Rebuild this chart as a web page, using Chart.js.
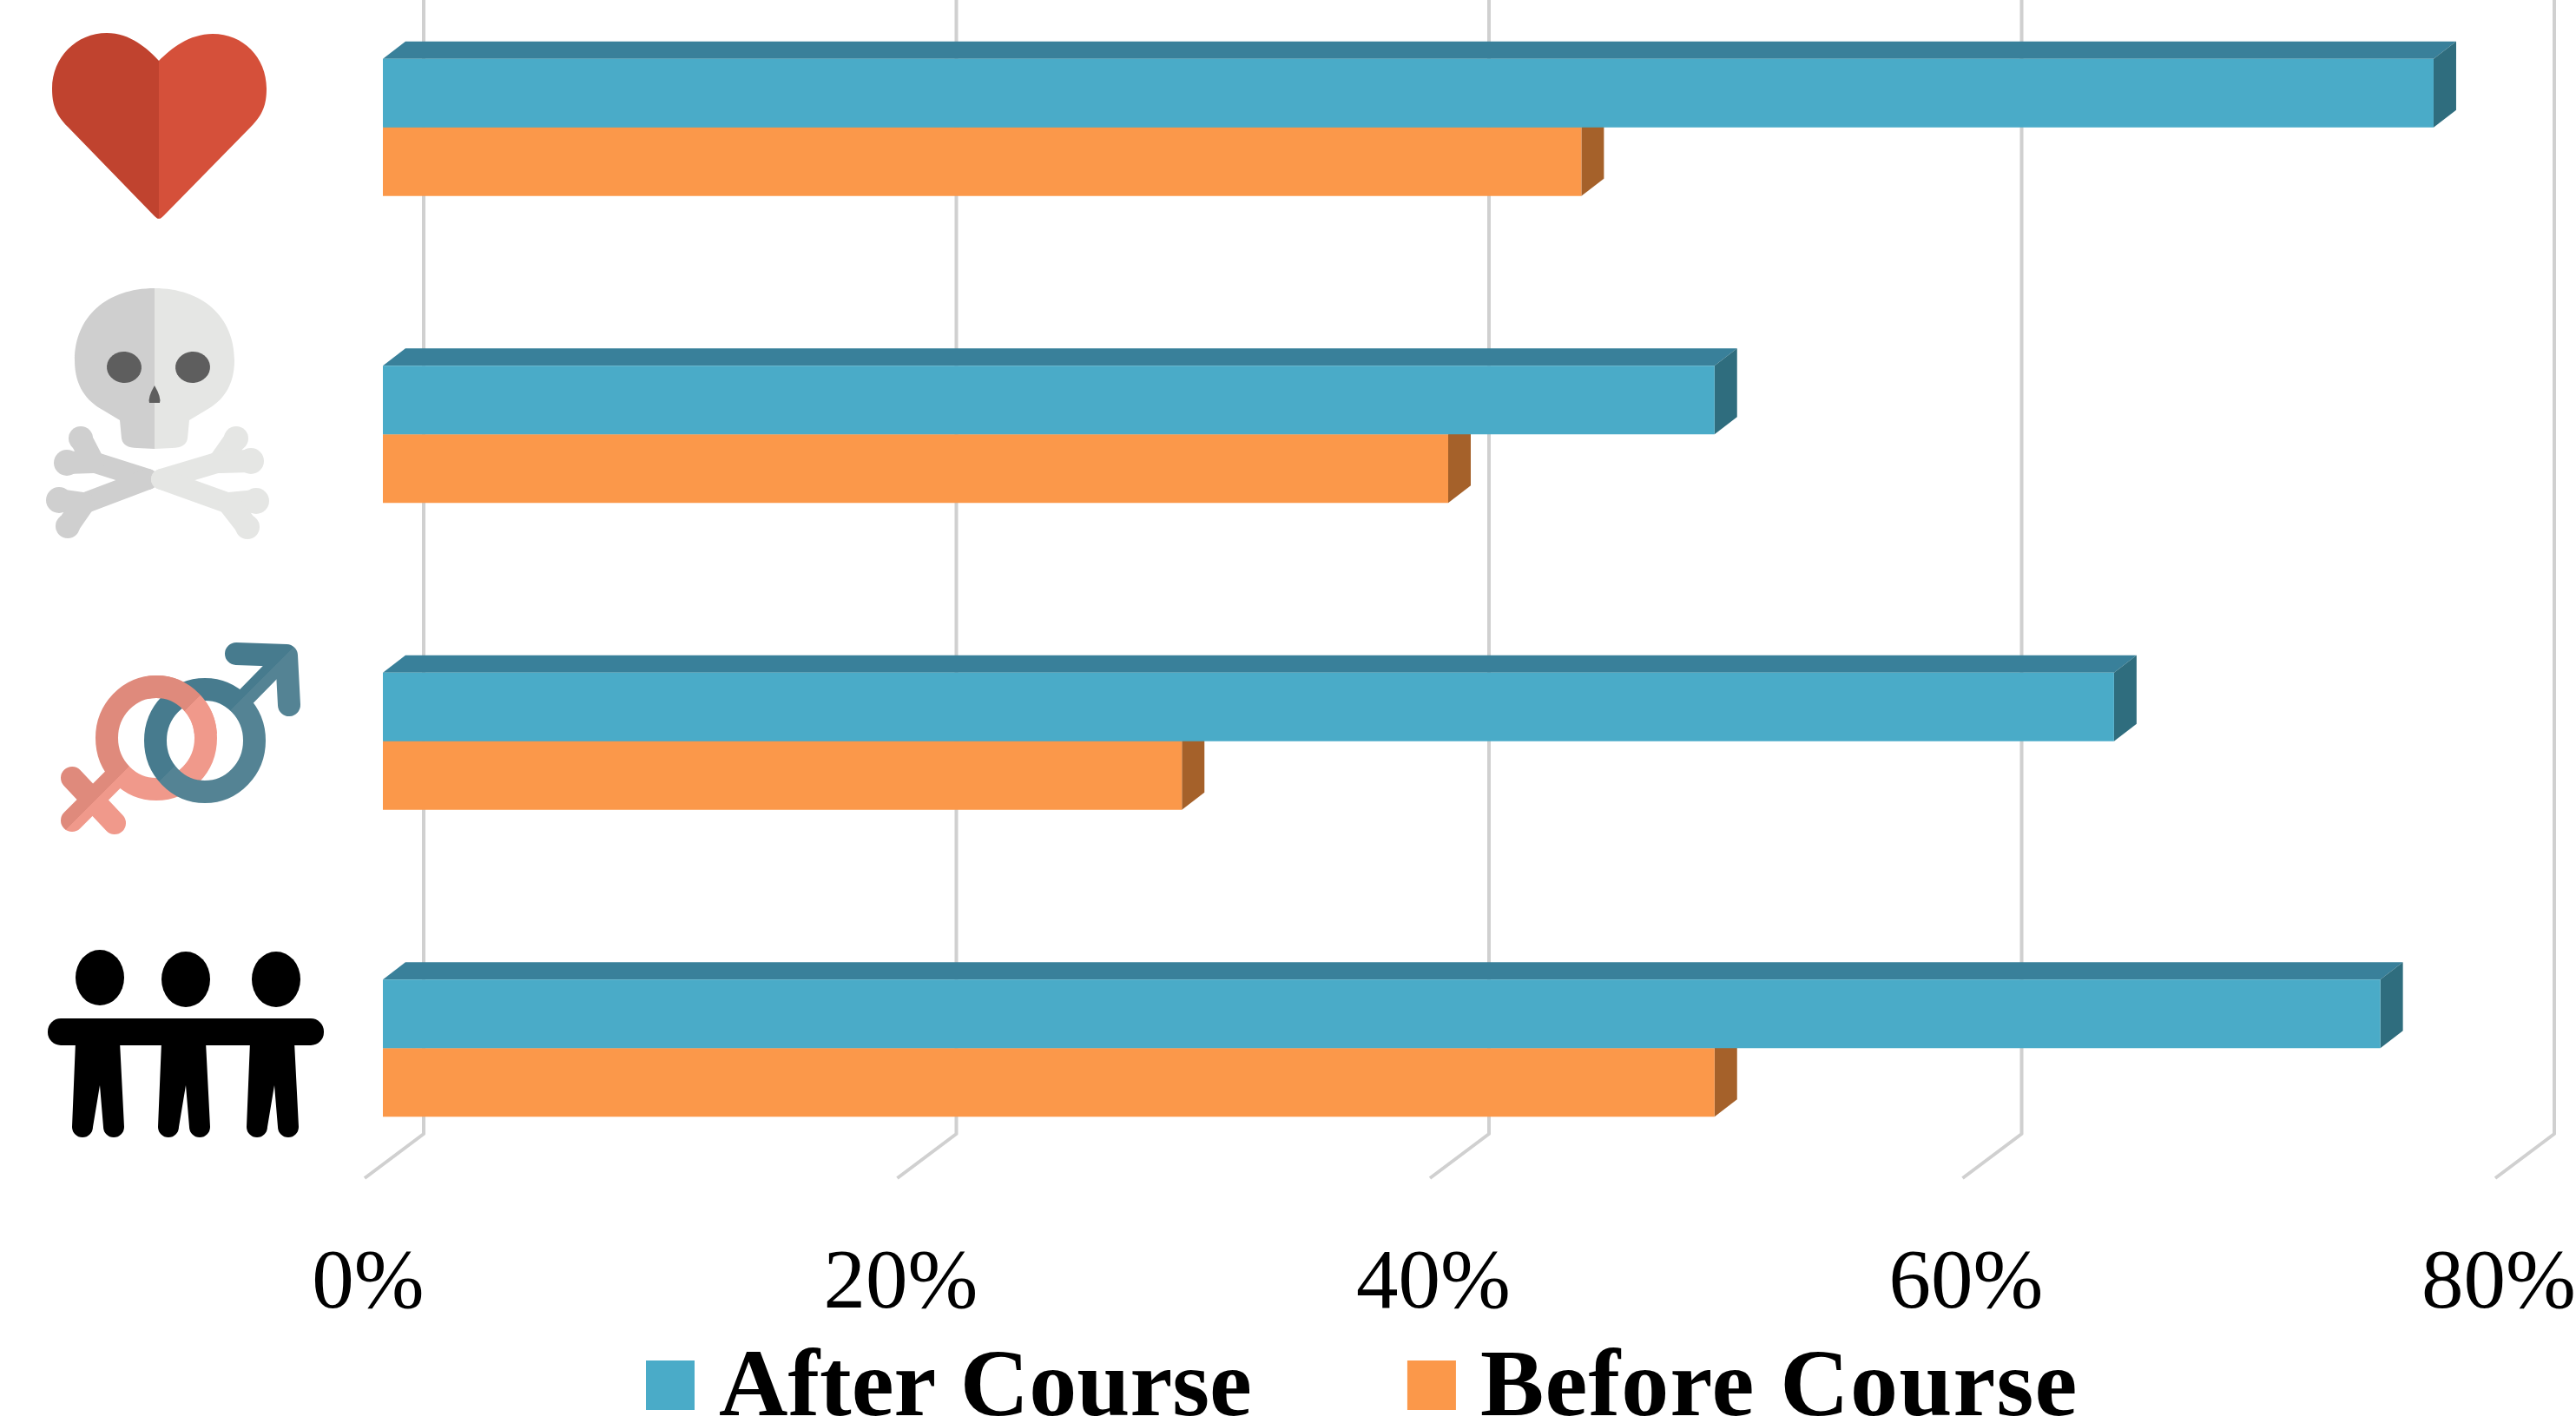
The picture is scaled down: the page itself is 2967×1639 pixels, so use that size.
<!DOCTYPE html>
<html>
<head>
<meta charset="utf-8">
<style>
  html, body { margin: 0; padding: 0; background: #fff; overflow: hidden; }
  /* the first band starts above the page, as in the reference */
  canvas { display: block; margin-top: -30px; }
</style>
</head>
<body>
<canvas id="courseChart" width="2967" height="1669"></canvas>
<script src="https://cdn.jsdelivr.net/npm/chart.js@4"></script>
<script>
const categories = ['Heart', 'Death', 'Sex', 'Family'];
const afterCourse = [77, 50, 65, 75];
const beforeCourse = [45, 40, 30, 50];
const tickValues = [0, 20, 40, 60, 80];
const PAGE_TOP = 30;

const afterColors = { front: '#4aabc8', top: '#39809a', side: '#2f6d7e' };
const beforeColors = { front: '#fb984a', top: '#c4742f', side: '#a5612a' };
const faceColors = [afterColors, beforeColors];

const serif = '"Liberation Serif", serif';

function poly(ctx, color, pts) {
  ctx.fillStyle = color;
  ctx.beginPath();
  pts.forEach((p, i) => i ? ctx.lineTo(p[0], p[1]) : ctx.moveTo(p[0], p[1]));
  ctx.closePath();
  ctx.fill();
}

// hard-edged two tone fill, split along the line through (x, y)
function twoTone(ctx, x, y, nx, ny, c1, c2) {
  const g = ctx.createLinearGradient(x - nx, y - ny, x + nx, y + ny);
  g.addColorStop(0, c1);
  g.addColorStop(0.5, c1);
  g.addColorStop(0.5, c2);
  g.addColorStop(1, c2);
  return g;
}

function drawHeart(ctx) {
  ctx.fillStyle = '#c0432f';
  ctx.beginPath();
  ctx.moveTo(183, 70);
  ctx.bezierCurveTo(170, 56, 150, 38, 123, 38);
  ctx.bezierCurveTo(88, 38, 60, 66, 60, 102);
  ctx.bezierCurveTo(60, 120, 64, 132, 78, 146);
  ctx.lineTo(177, 248);
  ctx.quadraticCurveTo(183, 254, 183, 251);
  ctx.closePath();
  ctx.fill();
  ctx.fillStyle = '#d5503a';
  ctx.beginPath();
  ctx.moveTo(183, 70);
  ctx.bezierCurveTo(197, 56, 218, 39, 245, 39);
  ctx.bezierCurveTo(280, 39, 307, 66, 307, 102);
  ctx.bezierCurveTo(307, 120, 303, 132, 289, 146);
  ctx.lineTo(189, 248);
  ctx.quadraticCurveTo(183, 254, 183, 251);
  ctx.closePath();
  ctx.fill();
}

function skullHalf(ctx, sign, color) {
  const cx = 178;
  const X = d => cx + sign * d;
  ctx.fillStyle = color;
  ctx.strokeStyle = color;
  ctx.lineCap = 'round';
  // cranium and jaw
  ctx.beginPath();
  ctx.moveTo(cx, 332);
  ctx.bezierCurveTo(X(55), 332, X(92), 365, X(92), 415);
  ctx.bezierCurveTo(X(92), 445, X(78), 462, X(60), 472);
  ctx.lineTo(X(40), 484);
  ctx.lineTo(X(38), 505);
  ctx.quadraticCurveTo(X(36), 516, X(20), 516);
  ctx.lineTo(cx, 517);
  ctx.closePath();
  ctx.fill();
  // crossed bones: knob, knob, joint
  const ends = sign < 0
    ? [[[93, 505, 14], [77, 533, 15], [107, 532]], [[68, 576, 15], [78, 606, 14], [96, 580]]]
    : [[[272, 505, 14], [289, 531, 15], [253, 532]], [[295, 577, 15], [285, 607, 14], [264, 580]]];
  ends.forEach(e => {
    ctx.lineWidth = 24;
    ctx.beginPath();
    ctx.moveTo(cx + sign * 8, 552);
    ctx.lineTo(e[2][0], e[2][1]);
    ctx.stroke();
    [e[0], e[1]].forEach(k => {
      ctx.beginPath();
      ctx.arc(k[0], k[1], k[2], 0, Math.PI * 2);
      ctx.fill();
      ctx.lineWidth = 26;
      ctx.beginPath();
      ctx.moveTo(e[2][0], e[2][1]);
      ctx.lineTo(k[0], k[1]);
      ctx.stroke();
    });
  });
}

function drawSkull(ctx) {
  skullHalf(ctx, -1, '#cfcfcf');
  skullHalf(ctx, 1, '#e5e6e4');
  ctx.fillStyle = '#5e5e5e';
  ctx.beginPath();
  ctx.ellipse(143, 423, 20, 18, 0.08, 0, Math.PI * 2);
  ctx.fill();
  ctx.beginPath();
  ctx.ellipse(222, 423, 20, 18, -0.08, 0, Math.PI * 2);
  ctx.fill();
  ctx.beginPath();
  ctx.moveTo(178, 444);
  ctx.quadraticCurveTo(186, 458, 184, 464);
  ctx.lineTo(172, 464);
  ctx.quadraticCurveTo(170, 458, 178, 444);
  ctx.fill();
}

function drawFemale(ctx) {
  const paint = twoTone(ctx, 155, 877, 60, 60, '#df8a7c', '#f0998b');
  ctx.strokeStyle = paint;
  ctx.lineCap = 'round';
  ctx.lineWidth = 26;
  ctx.beginPath();
  ctx.ellipse(180, 850, 57, 59, 0, 0, Math.PI * 2);
  ctx.stroke();
  ctx.beginPath();
  ctx.moveTo(135, 893);
  ctx.lineTo(83, 945);
  ctx.moveTo(83, 896);
  ctx.lineTo(132, 948);
  ctx.stroke();
}

function drawMale(ctx) {
  const paint = twoTone(ctx, 262, 822, 60, 60, '#477b8e', '#548394');
  ctx.strokeStyle = paint;
  ctx.lineCap = 'round';
  ctx.lineWidth = 26;
  ctx.beginPath();
  ctx.ellipse(236, 853, 57, 59, 0, 0, Math.PI * 2);
  ctx.stroke();
  ctx.lineWidth = 22;
  ctx.beginPath();
  ctx.moveTo(278, 808);
  ctx.lineTo(331, 754);
  ctx.stroke();
  ctx.lineWidth = 26;
  ctx.lineJoin = 'round';
  ctx.beginPath();
  ctx.moveTo(272, 753);
  ctx.lineTo(330, 755);
  ctx.lineTo(333, 812);
  ctx.stroke();
}

function drawGender(ctx) {
  drawFemale(ctx);
  drawMale(ctx);
  // female ring passes over the male one at the upper crossing
  ctx.save();
  ctx.beginPath();
  ctx.rect(170, 760, 90, 85);
  ctx.clip();
  drawFemale(ctx);
  ctx.restore();
}

function drawPeople(ctx) {
  ctx.fillStyle = '#000';
  [[115, 1126], [214, 1128], [318, 1128]].forEach(h => {
    ctx.beginPath();
    ctx.ellipse(h[0], h[1], 28, 32, 0, 0, Math.PI * 2);
    ctx.fill();
  });
  ctx.beginPath();
  ctx.roundRect(55, 1173, 318, 31, 15);
  ctx.fill();
  [115, 214, 316].forEach(cx => {
    ctx.beginPath();
    ctx.moveTo(cx - 28, 1200);
    ctx.lineTo(cx - 32, 1298);
    ctx.arc(cx - 20, 1298, 12, Math.PI, 0, true);
    ctx.lineTo(cx, 1250);
    ctx.lineTo(cx + 4, 1298);
    ctx.arc(cx + 16, 1298, 12, Math.PI, 0, true);
    ctx.lineTo(cx + 23, 1200);
    ctx.closePath();
    ctx.fill();
  });
}

// back wall grid lines and the floor lines running toward the viewer
const gridPlugin = {
  id: 'depthGrid',
  beforeDatasetsDraw(chart) {
    const ctx = chart.ctx;
    const x = chart.scales.x;
    ctx.save();
    ctx.strokeStyle = '#d0d0d0';
    ctx.lineWidth = 4;
    ctx.lineJoin = 'round';
    tickValues.forEach(v => {
      const px = x.getPixelForValue(v) + 47;
      ctx.beginPath();
      ctx.moveTo(px, 0);
      ctx.lineTo(px, chart.chartArea.bottom - 78);
      ctx.lineTo(px - 68, chart.chartArea.bottom - 27);
      ctx.stroke();
    });
    ctx.restore();
  }
};

// top and side faces of each bar
const facePlugin = {
  id: 'barFaces',
  beforeDatasetDraw(chart, args) {
    const ctx = chart.ctx;
    const colors = faceColors[args.index];
    const dx = 26, dy = 20;
    ctx.save();
    args.meta.data.forEach(bar => {
      const top = bar.y - bar.height / 2;
      const bottom = bar.y + bar.height / 2;
      poly(ctx, colors.top, [[bar.base, top], [bar.x, top], [bar.x + dx, top - dy], [bar.base + dx, top - dy]]);
      poly(ctx, colors.side, [[bar.x, top], [bar.x + dx, top - dy], [bar.x + dx, bottom - dy], [bar.x, bottom]]);
    });
    ctx.restore();
  }
};

const iconPlugin = {
  id: 'categoryIcons',
  afterDraw(chart) {
    const ctx = chart.ctx;
    ctx.save();
    ctx.translate(0, PAGE_TOP);
    [drawHeart, drawSkull, drawGender, drawPeople].forEach(draw => {
      ctx.save();
      draw(ctx);
      ctx.restore();
    });
    ctx.restore();
  }
};

// the built-in legend keeps a half-font gap after the box, too wide here
const legendPlugin = {
  id: 'courseLegend',
  afterDraw(chart) {
    const ctx = chart.ctx;
    let x = 744;
    ctx.save();
    ctx.font = 'bold 110px ' + serif;
    ctx.textBaseline = 'alphabetic';
    chart.data.datasets.forEach(ds => {
      ctx.fillStyle = ds.backgroundColor;
      ctx.fillRect(x, 1567 + PAGE_TOP, 56, 57);
      ctx.fillStyle = '#000';
      ctx.letterSpacing = ds.label === 'Before Course' ? '1.2px' : '0px';
      ctx.fillText(ds.label, x + 84, 1630 + PAGE_TOP);
      x += 84 + ctx.measureText(ds.label).width + 179;
    });
    ctx.restore();
  }
};

new Chart(document.getElementById('courseChart'), {
  type: 'bar',
  data: {
    labels: categories,
    datasets: [
      { label: 'After Course', data: afterCourse, backgroundColor: afterColors.front },
      { label: 'Before Course', data: beforeCourse, backgroundColor: beforeColors.front }
    ]
  },
  options: {
    indexAxis: 'y',
    responsive: false,
    animation: false,
    layout: { padding: { left: 441, right: 72, top: 0, bottom: 0 } },
    datasets: { bar: { categoryPercentage: 0.4467, barPercentage: 1 } },
    plugins: { legend: { display: false }, tooltip: { enabled: false } },
    scales: {
      x: {
        min: 0,
        max: 80,
        grid: { display: false, drawTicks: false },
        border: { display: false },
        ticks: {
          stepSize: 20,
          maxRotation: 0,
          labelOffset: -17,
          padding: 38,
          color: '#000',
          font: { family: serif, size: 97 },
          callback: v => v + '%'
        },
        afterFit(scale) {
          scale.height = 255;
          scale.paddingLeft = 0;
          scale.paddingRight = 0;
        }
      },
      y: {
        grid: { display: false },
        border: { display: false },
        ticks: { display: false },
        afterFit(scale) {
          scale.width = 0;
        }
      }
    }
  },
  plugins: [gridPlugin, facePlugin, iconPlugin, legendPlugin]
});
</script>
</body>
</html>
